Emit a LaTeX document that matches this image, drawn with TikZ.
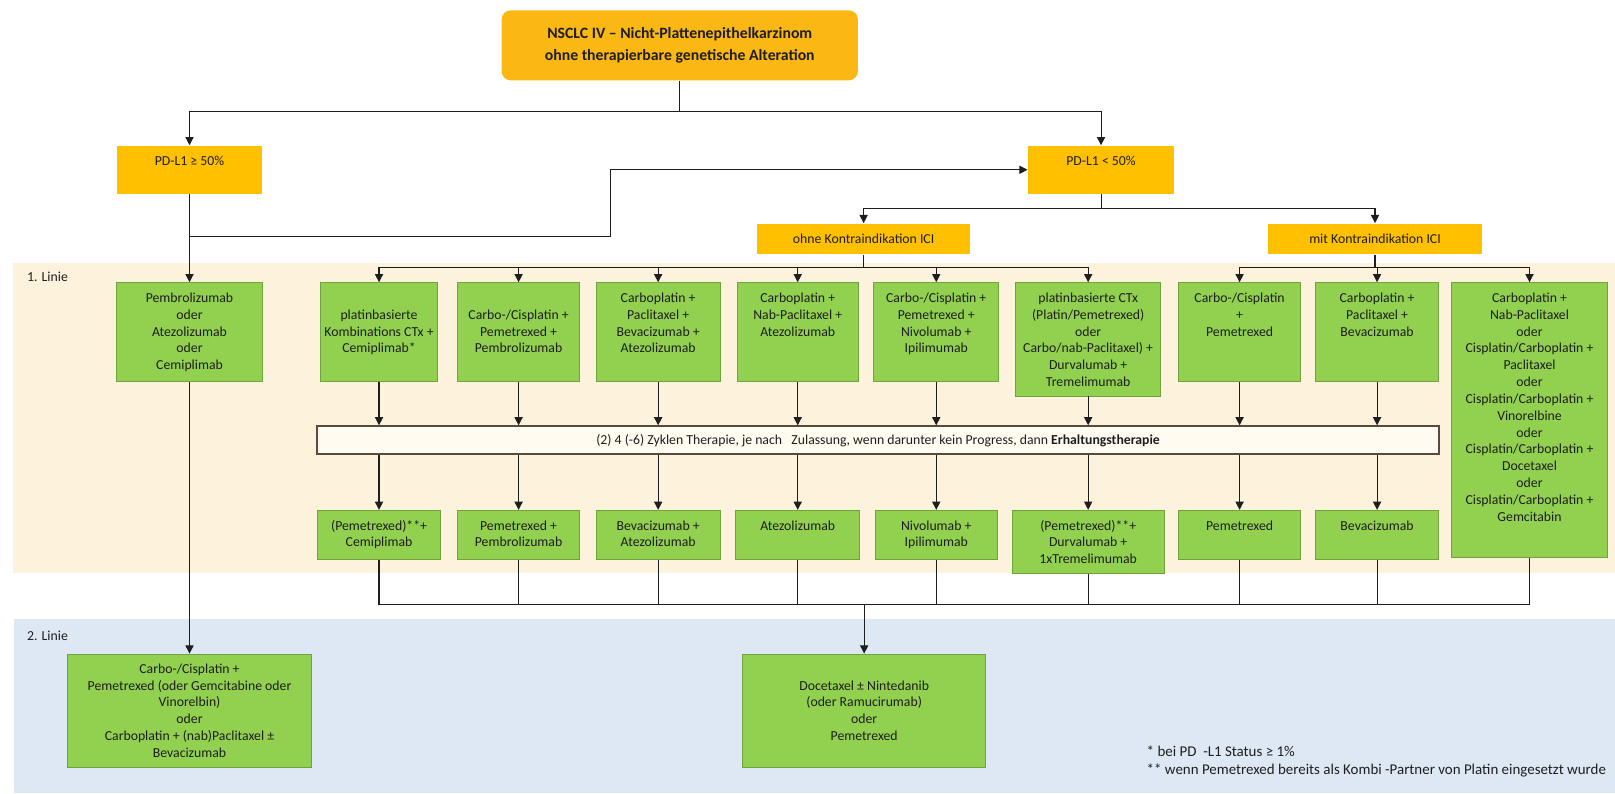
\documentclass[tikz,border=0pt]{standalone}
\usepackage{fontspec}
\setmainfont{Carlito}
\usetikzlibrary{arrows.meta}

\definecolor{orng}{HTML}{FFC000}
\definecolor{orngT}{HTML}{FBB714}
\definecolor{grn}{HTML}{92D050}
\definecolor{grnd}{HTML}{6FA23A}
\definecolor{bandA}{HTML}{FDF2DC}
\definecolor{bandB}{HTML}{DDE8F4}
\definecolor{cycfill}{HTML}{FFFBF0}
\definecolor{cycline}{HTML}{5A4A3C}
\definecolor{ink}{HTML}{1E1E1E}

\newlength\pxu
\setlength\pxu{0.02cm}
% box text: width, height (in pixel units), top-aligned centred lines
\newcommand\tb[3]{\parbox[c][#2\pxu][t]{#1\pxu}{\centering\vspace*{4.4pt}\strut #3\par}}
\newcommand\fs{\fontsize{7.6}{9.3}\selectfont}

\begin{document}
\begin{tikzpicture}[x=0.02cm,y=-0.02cm,
  line/.style={draw=ink, line width=0.6pt},
  arr/.style={line, -{Triangle[length=4.5pt,width=4.5pt]}},
  obox/.style={fill=orng, draw=none, inner sep=0pt, font=\fs, text=ink},
  gbox/.style={fill=grn, draw=grnd, line width=0.5pt, inner sep=0pt, font=\fs, text=ink},
  lbl/.style={font=\fs, text=ink, inner sep=0pt},
  note/.style={lbl, anchor=west, font=\fontsize{8.25}{10}\selectfont},
]
\useasboundingbox (0,0) rectangle (1568,770);

% treatment-line bands
\fill[bandA] (13,255) rectangle (1568,556);
\fill[bandB] (14,601) rectangle (1568,770);
\node[lbl, anchor=west] (lab1) at (26,269) {1. Linie};
\node[lbl, anchor=west] (lab2) at (26,617) {2. Linie};

% title and PD-L1 branches
\node[fill=orngT, rounded corners=0.18cm, inner sep=0pt, minimum width=346\pxu, minimum height=68\pxu,
      align=center, text=ink, font=\bfseries\fontsize{8.7}{12.5}\selectfont] (top) at (660,44)
  {NSCLC IV – Nicht-Plattenepithelkarzinom\\ohne therapierbare genetische Alteration};
\node[obox, anchor=north] (pdhi) at (184,141) {\tb{140}{47}{PD-L1 ≥ 50\%}};
\node[obox, anchor=north] (pdlo) at (1069,141) {\tb{142}{47}{PD-L1 < 50\%}};
\node[obox, minimum width=207\pxu, minimum height=30\pxu] (ohne) at (838.5,232) {ohne Kontraindikation ICI};
\node[obox, minimum width=208\pxu, minimum height=30\pxu] (mit) at (1335,232) {mit Kontraindikation ICI};

% first line: induction
\node[gbox, anchor=north] (pem) at (184,274) {\tb{141}{96}{Pembrolizumab\\oder\\Atezolizumab\\oder\\Cemiplimab}};
\node[gbox, anchor=north] (b1) at (368,274) {\tb{114}{96}{\\platinbasierte\\Kombinations CTx +\\Cemiplimab*}};
\node[gbox, anchor=north] (b2) at (503.5,274) {\tb{119}{96}{\\Carbo-/Cisplatin +\\Pemetrexed +\\Pembrolizumab}};
\node[gbox, anchor=north] (b3) at (639,274) {\tb{120}{96}{Carboplatin +\\Paclitaxel +\\Bevacizumab +\\Atezolizumab}};
\node[gbox, anchor=north] (b4) at (774.5,274) {\tb{118}{96}{Carboplatin +\\Nab-Paclitaxel +\\Atezolizumab}};
\node[gbox, anchor=north] (b5) at (909,274) {\tb{121}{96}{Carbo-/Cisplatin +\\Pemetrexed +\\Nivolumab +\\Ipilimumab}};
\node[gbox, anchor=north] (b6) at (1056.5,274) {\tb{141}{110}{platinbasierte CTx\\(Platin/Pemetrexed)\\oder\\Carbo/nab-Paclitaxel) +\\Durvalumab +\\Tremelimumab}};
\node[gbox, anchor=north] (b7) at (1203.5,274) {\tb{119}{96}{Carbo-/Cisplatin\\+\\Pemetrexed}};
\node[gbox, anchor=north] (b8) at (1337,274) {\tb{120}{96}{Carboplatin +\\Paclitaxel +\\Bevacizumab}};
\node[gbox, anchor=north] (b9) at (1485,274) {\tb{152}{267}{Carboplatin +\\Nab-Paclitaxel\\oder\\Cisplatin/Carboplatin +\\Paclitaxel\\oder\\Cisplatin/Carboplatin +\\Vinorelbine\\oder\\Cisplatin/Carboplatin +\\Docetaxel\\oder\\Cisplatin/Carboplatin +\\Gemcitabin}};

% cycles bar
\node[fill=cycfill, draw=cycline, line width=1.2pt, inner sep=0pt, minimum width=1089\pxu, minimum height=27\pxu,
      font=\fs, text=ink] (cyc) at (852.5,427.5)
  {(2) 4 (-6) Zyklen Therapie, je nach\ \ \ Zulassung, wenn darunter kein Progress, dann \textbf{Erhaltungstherapie}};

% first line: maintenance
\node[gbox, anchor=north] (c1) at (368,495) {\tb{119}{48}{(Pemetrexed)**+\\Cemiplimab}};
\node[gbox, anchor=north] (c2) at (503.5,495) {\tb{119}{48}{Pemetrexed +\\Pembrolizumab}};
\node[gbox, anchor=north] (c3) at (639,495) {\tb{120}{48}{Bevacizumab +\\Atezolizumab}};
\node[gbox, anchor=north] (c4) at (774.5,495) {\tb{120}{48}{Atezolizumab}};
\node[gbox, anchor=north] (c5) at (909,495) {\tb{118}{48}{Nivolumab +\\Ipilimumab}};
\node[gbox, anchor=north] (c6) at (1056.5,495) {\tb{148}{61}{(Pemetrexed)**+\\Durvalumab +\\1xTremelimumab}};
\node[gbox, anchor=north] (c7) at (1203.5,495) {\tb{119}{48}{Pemetrexed}};
\node[gbox, anchor=north] (c8) at (1337,495) {\tb{120}{48}{Bevacizumab}};

% second line
\node[gbox, minimum width=237\pxu, minimum height=110\pxu, align=center] (l2a) at (184,690)
  {Carbo-/Cisplatin +\\Pemetrexed (oder Gemcitabine oder\\Vinorelbin)\\oder\\Carboplatin + (nab)Paclitaxel ±\\Bevacizumab};
\node[gbox, minimum width=236\pxu, minimum height=110\pxu, align=center] (doc) at (839,690)
  {Docetaxel ± Nintedanib\\(oder Ramucirumab)\\oder\\Pemetrexed};

% footnotes
\node[note] (fn1) at (1113,729) {* bei PD\ \ -L1 Status ≥ 1\%};
\node[note] (fn2) at (1113,748) {** wenn Pemetrexed bereits als Kombi -Partner von Platin eingesetzt wurde};

% junction levels
\coordinate (s1) at (0,108);
\coordinate (s2) at (0,202);
\coordinate (s3) at (0,260);
\coordinate (s4) at (0,587);
\coordinate (loopA) at (184,230);
\coordinate (loopB) at (593,230);

% connectors
\draw[line] (top.south) -- (top.south |- s1);
\draw[arr] (top.south |- s1) -| (pdhi.north);
\draw[arr] (top.south |- s1) -| (pdlo.north);

\draw[arr] (pdhi.south) -- (pem.north);
\draw[arr] (loopA) -- (loopB) |- (pdlo.west);
\draw[arr] (pem.south) -- (l2a.north);

\draw[line] (pdlo.south) -- (pdlo.south |- s2);
\draw[arr] (pdlo.south |- s2) -| (ohne.north);
\draw[arr] (pdlo.south |- s2) -| (mit.north);

\draw[line] (ohne.south) -- (ohne.south |- s3);
\foreach \b in {b1,b2,b3,b4,b5,b6} \draw[arr] (ohne.south |- s3) -| (\b.north);
\draw[line] (mit.south) -- (mit.south |- s3);
\foreach \b in {b7,b8,b9} \draw[arr] (mit.south |- s3) -| (\b.north);

\foreach \b in {b1,b2,b3,b4,b5,b6,b7,b8} \draw[arr] (\b.south) -- (\b.south |- cyc.north);
\foreach \c in {c1,c2,c3,c4,c5,c6,c7,c8} \draw[arr] (\c.north |- cyc.south) -- (\c.north);

\draw[line] (c1.south) |- (b9.south |- s4) -- (b9.south);
\foreach \c in {c2,c3,c4,c5,c6,c7,c8} \draw[line] (\c.south) -- (\c.south |- s4);
\draw[arr] (doc.north |- s4) -- (doc.north);
\end{tikzpicture}
\end{document}
